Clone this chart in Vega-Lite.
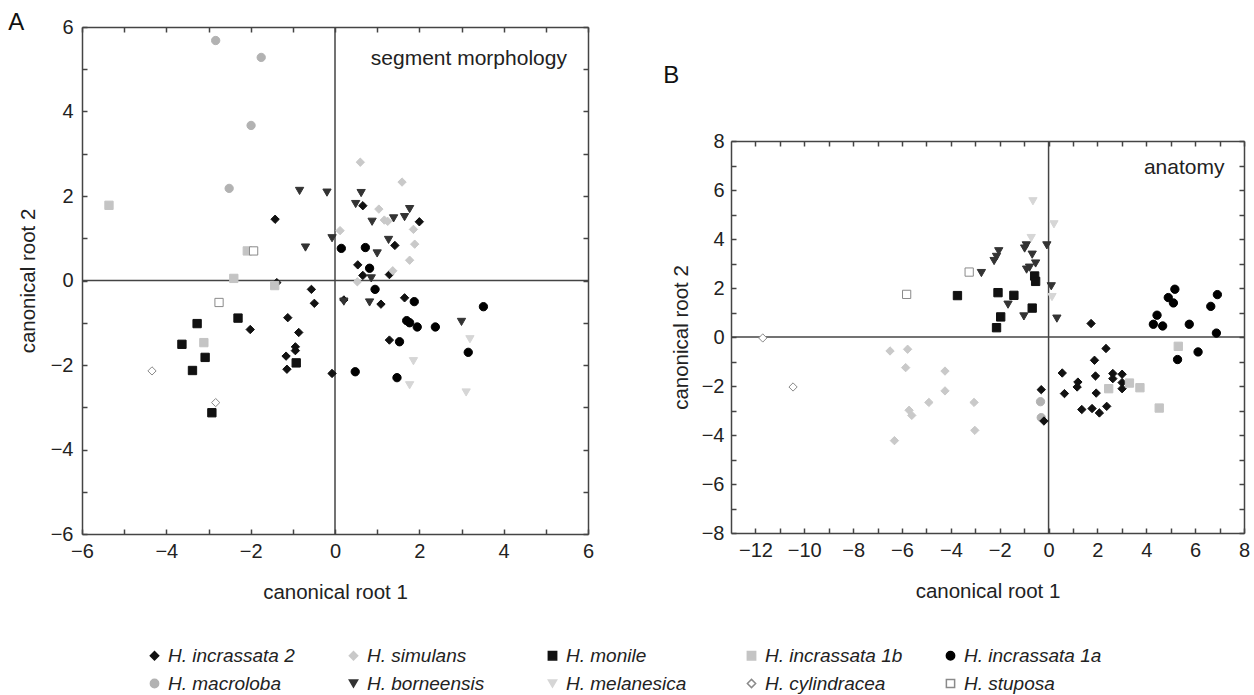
{
  "$schema": "https://vega.github.io/schema/vega-lite/v6.json",
  "padding": {"left": 8, "top": 11, "right": 5, "bottom": 5},
  "background": "white",
  "datasets": {
    "pts": [
      {"p":"A","s":"H. incrassata 2","x":-1.42,"y":1.45},
      {"p":"A","s":"H. incrassata 2","x":0.66,"y":1.77},
      {"p":"A","s":"H. incrassata 2","x":2.0,"y":1.39},
      {"p":"A","s":"H. incrassata 2","x":1.42,"y":0.83},
      {"p":"A","s":"H. incrassata 2","x":0.54,"y":0.37},
      {"p":"A","s":"H. incrassata 2","x":0.66,"y":0.12},
      {"p":"A","s":"H. incrassata 2","x":1.29,"y":0.14},
      {"p":"A","s":"H. incrassata 2","x":0.21,"y":-0.46},
      {"p":"A","s":"H. incrassata 2","x":1.09,"y":-0.56},
      {"p":"A","s":"H. incrassata 2","x":1.65,"y":-0.41},
      {"p":"A","s":"H. incrassata 2","x":1.29,"y":-1.41},
      {"p":"A","s":"H. incrassata 2","x":-0.07,"y":-2.2},
      {"p":"A","s":"H. incrassata 2","x":-1.38,"y":-0.05},
      {"p":"A","s":"H. incrassata 2","x":-0.56,"y":-0.21},
      {"p":"A","s":"H. incrassata 2","x":-0.49,"y":-0.54},
      {"p":"A","s":"H. incrassata 2","x":-2.01,"y":-1.16},
      {"p":"A","s":"H. incrassata 2","x":-1.12,"y":-0.88},
      {"p":"A","s":"H. incrassata 2","x":-0.86,"y":-1.23},
      {"p":"A","s":"H. incrassata 2","x":-1.16,"y":-1.79},
      {"p":"A","s":"H. incrassata 2","x":-0.94,"y":-1.57},
      {"p":"A","s":"H. incrassata 2","x":-0.94,"y":-1.66},
      {"p":"A","s":"H. incrassata 2","x":-1.14,"y":-2.1},
      {"p":"A","s":"H. simulans","x":0.6,"y":2.8},
      {"p":"A","s":"H. simulans","x":1.59,"y":2.33},
      {"p":"A","s":"H. simulans","x":1.04,"y":1.69},
      {"p":"A","s":"H. simulans","x":1.17,"y":1.43},
      {"p":"A","s":"H. simulans","x":1.25,"y":1.4},
      {"p":"A","s":"H. simulans","x":0.12,"y":1.18},
      {"p":"A","s":"H. simulans","x":1.86,"y":1.21},
      {"p":"A","s":"H. simulans","x":1.89,"y":0.86},
      {"p":"A","s":"H. simulans","x":1.77,"y":0.48},
      {"p":"A","s":"H. simulans","x":1.37,"y":0.23},
      {"p":"A","s":"H. simulans","x":0.53,"y":-0.03},
      {"p":"A","s":"H. monile","x":-3.27,"y":-1.02},
      {"p":"A","s":"H. monile","x":-2.3,"y":-0.89},
      {"p":"A","s":"H. monile","x":-3.63,"y":-1.51},
      {"p":"A","s":"H. monile","x":-3.08,"y":-1.82},
      {"p":"A","s":"H. monile","x":-3.38,"y":-2.13},
      {"p":"A","s":"H. monile","x":-0.92,"y":-1.95},
      {"p":"A","s":"H. monile","x":-2.92,"y":-3.13},
      {"p":"A","s":"H. incrassata 1b","x":-5.36,"y":1.78},
      {"p":"A","s":"H. incrassata 1b","x":-2.08,"y":0.7},
      {"p":"A","s":"H. incrassata 1b","x":-2.4,"y":0.05},
      {"p":"A","s":"H. incrassata 1b","x":-1.43,"y":-0.12},
      {"p":"A","s":"H. incrassata 1b","x":-3.11,"y":-1.47},
      {"p":"A","s":"H. incrassata 1a","x":0.15,"y":0.76},
      {"p":"A","s":"H. incrassata 1a","x":0.72,"y":0.78},
      {"p":"A","s":"H. incrassata 1a","x":0.82,"y":0.29},
      {"p":"A","s":"H. incrassata 1a","x":0.95,"y":-0.21},
      {"p":"A","s":"H. incrassata 1a","x":1.88,"y":-0.5},
      {"p":"A","s":"H. incrassata 1a","x":3.52,"y":-0.62},
      {"p":"A","s":"H. incrassata 1a","x":1.7,"y":-0.95},
      {"p":"A","s":"H. incrassata 1a","x":1.77,"y":-1.0},
      {"p":"A","s":"H. incrassata 1a","x":1.95,"y":-1.1},
      {"p":"A","s":"H. incrassata 1a","x":2.38,"y":-1.1},
      {"p":"A","s":"H. incrassata 1a","x":1.53,"y":-1.45},
      {"p":"A","s":"H. incrassata 1a","x":3.16,"y":-1.7},
      {"p":"A","s":"H. incrassata 1a","x":0.48,"y":-2.16},
      {"p":"A","s":"H. incrassata 1a","x":1.47,"y":-2.3},
      {"p":"A","s":"H. macroloba","x":-2.83,"y":5.68},
      {"p":"A","s":"H. macroloba","x":-1.75,"y":5.28},
      {"p":"A","s":"H. macroloba","x":-1.99,"y":3.67},
      {"p":"A","s":"H. macroloba","x":-2.51,"y":2.18},
      {"p":"A","s":"H. borneensis","x":-0.84,"y":2.12},
      {"p":"A","s":"H. borneensis","x":-0.19,"y":2.08},
      {"p":"A","s":"H. borneensis","x":-0.7,"y":0.78},
      {"p":"A","s":"H. borneensis","x":-0.07,"y":1.0},
      {"p":"A","s":"H. borneensis","x":0.62,"y":2.07},
      {"p":"A","s":"H. borneensis","x":0.49,"y":1.81},
      {"p":"A","s":"H. borneensis","x":0.88,"y":1.39},
      {"p":"A","s":"H. borneensis","x":1.39,"y":1.47},
      {"p":"A","s":"H. borneensis","x":1.65,"y":1.5},
      {"p":"A","s":"H. borneensis","x":1.77,"y":1.69},
      {"p":"A","s":"H. borneensis","x":1.27,"y":0.96},
      {"p":"A","s":"H. borneensis","x":1.0,"y":0.64},
      {"p":"A","s":"H. borneensis","x":0.86,"y":0.05},
      {"p":"A","s":"H. borneensis","x":0.21,"y":-0.5},
      {"p":"A","s":"H. borneensis","x":0.82,"y":-0.52},
      {"p":"A","s":"H. borneensis","x":3.0,"y":-0.98},
      {"p":"A","s":"H. melanesica","x":3.2,"y":-1.39},
      {"p":"A","s":"H. melanesica","x":1.86,"y":-1.91},
      {"p":"A","s":"H. melanesica","x":1.77,"y":-2.48},
      {"p":"A","s":"H. melanesica","x":3.11,"y":-2.65},
      {"p":"A","s":"H. cylindracea","x":-4.34,"y":-2.14},
      {"p":"A","s":"H. cylindracea","x":-2.83,"y":-2.89},
      {"p":"A","s":"H. stuposa","x":-1.93,"y":0.7},
      {"p":"A","s":"H. stuposa","x":-2.75,"y":-0.52},
      {"p":"B","s":"H. cylindracea","x":-11.7,"y":-0.04},
      {"p":"B","s":"H. cylindracea","x":-10.46,"y":-2.04},
      {"p":"B","s":"H. stuposa","x":-5.81,"y":1.74},
      {"p":"B","s":"H. stuposa","x":-3.25,"y":2.65},
      {"p":"B","s":"H. monile","x":-3.73,"y":1.69},
      {"p":"B","s":"H. monile","x":-0.57,"y":2.49},
      {"p":"B","s":"H. monile","x":-0.53,"y":2.27},
      {"p":"B","s":"H. monile","x":-2.07,"y":1.81},
      {"p":"B","s":"H. monile","x":-1.42,"y":1.7},
      {"p":"B","s":"H. monile","x":-0.67,"y":1.18},
      {"p":"B","s":"H. monile","x":-1.96,"y":0.82},
      {"p":"B","s":"H. monile","x":-2.13,"y":0.38},
      {"p":"B","s":"H. borneensis","x":-2.04,"y":3.5},
      {"p":"B","s":"H. borneensis","x":-2.13,"y":3.27},
      {"p":"B","s":"H. borneensis","x":-2.23,"y":3.1},
      {"p":"B","s":"H. borneensis","x":-2.75,"y":2.61},
      {"p":"B","s":"H. borneensis","x":-0.91,"y":3.74},
      {"p":"B","s":"H. borneensis","x":-0.98,"y":3.61},
      {"p":"B","s":"H. borneensis","x":-0.67,"y":3.36},
      {"p":"B","s":"H. borneensis","x":-0.53,"y":3.0},
      {"p":"B","s":"H. borneensis","x":-0.78,"y":2.83},
      {"p":"B","s":"H. borneensis","x":-0.9,"y":2.75},
      {"p":"B","s":"H. borneensis","x":-0.07,"y":3.74},
      {"p":"B","s":"H. borneensis","x":0.11,"y":2.07},
      {"p":"B","s":"H. borneensis","x":-1.66,"y":1.32},
      {"p":"B","s":"H. borneensis","x":-1.01,"y":0.84},
      {"p":"B","s":"H. borneensis","x":0.34,"y":0.75},
      {"p":"B","s":"H. melanesica","x":-0.64,"y":5.54},
      {"p":"B","s":"H. melanesica","x":0.22,"y":4.6},
      {"p":"B","s":"H. melanesica","x":-0.71,"y":4.04},
      {"p":"B","s":"H. melanesica","x":0.14,"y":1.63},
      {"p":"B","s":"H. simulans","x":-6.49,"y":-0.57},
      {"p":"B","s":"H. simulans","x":-5.77,"y":-0.5},
      {"p":"B","s":"H. simulans","x":-5.85,"y":-1.25},
      {"p":"B","s":"H. simulans","x":-4.24,"y":-1.39},
      {"p":"B","s":"H. simulans","x":-4.24,"y":-2.2},
      {"p":"B","s":"H. simulans","x":-4.9,"y":-2.67},
      {"p":"B","s":"H. simulans","x":-5.71,"y":-2.99},
      {"p":"B","s":"H. simulans","x":-5.6,"y":-3.2},
      {"p":"B","s":"H. simulans","x":-6.31,"y":-4.23},
      {"p":"B","s":"H. simulans","x":-3.05,"y":-2.67},
      {"p":"B","s":"H. simulans","x":-3.02,"y":-3.81},
      {"p":"B","s":"H. macroloba","x":-0.33,"y":-2.64},
      {"p":"B","s":"H. macroloba","x":-0.3,"y":-3.29},
      {"p":"B","s":"H. incrassata 2","x":-0.3,"y":-2.15},
      {"p":"B","s":"H. incrassata 2","x":-0.19,"y":-3.43},
      {"p":"B","s":"H. incrassata 2","x":1.74,"y":0.55},
      {"p":"B","s":"H. incrassata 2","x":2.35,"y":-0.47},
      {"p":"B","s":"H. incrassata 2","x":1.88,"y":-0.95},
      {"p":"B","s":"H. incrassata 2","x":0.56,"y":-1.47},
      {"p":"B","s":"H. incrassata 2","x":1.2,"y":-1.84},
      {"p":"B","s":"H. incrassata 2","x":1.17,"y":-2.04},
      {"p":"B","s":"H. incrassata 2","x":0.65,"y":-2.31},
      {"p":"B","s":"H. incrassata 2","x":1.92,"y":-1.59},
      {"p":"B","s":"H. incrassata 2","x":2.63,"y":-1.49},
      {"p":"B","s":"H. incrassata 2","x":3.01,"y":-1.52},
      {"p":"B","s":"H. incrassata 2","x":2.63,"y":-1.7},
      {"p":"B","s":"H. incrassata 2","x":3.01,"y":-1.86},
      {"p":"B","s":"H. incrassata 2","x":3.01,"y":-2.11},
      {"p":"B","s":"H. incrassata 2","x":1.95,"y":-2.29},
      {"p":"B","s":"H. incrassata 2","x":1.36,"y":-2.96},
      {"p":"B","s":"H. incrassata 2","x":1.78,"y":-2.92},
      {"p":"B","s":"H. incrassata 2","x":2.08,"y":-3.1},
      {"p":"B","s":"H. incrassata 2","x":2.38,"y":-2.83},
      {"p":"B","s":"H. incrassata 1b","x":2.46,"y":-2.11},
      {"p":"B","s":"H. incrassata 1b","x":3.31,"y":-1.88},
      {"p":"B","s":"H. incrassata 1b","x":3.74,"y":-2.07},
      {"p":"B","s":"H. incrassata 1b","x":4.53,"y":-2.9},
      {"p":"B","s":"H. incrassata 1b","x":5.31,"y":-0.38},
      {"p":"B","s":"H. incrassata 1a","x":5.28,"y":-0.92},
      {"p":"B","s":"H. incrassata 1a","x":6.12,"y":-0.61},
      {"p":"B","s":"H. incrassata 1a","x":6.87,"y":0.16},
      {"p":"B","s":"H. incrassata 1a","x":5.17,"y":1.95},
      {"p":"B","s":"H. incrassata 1a","x":4.9,"y":1.61},
      {"p":"B","s":"H. incrassata 1a","x":5.11,"y":1.39},
      {"p":"B","s":"H. incrassata 1a","x":6.91,"y":1.73},
      {"p":"B","s":"H. incrassata 1a","x":6.64,"y":1.25},
      {"p":"B","s":"H. incrassata 1a","x":4.44,"y":0.89},
      {"p":"B","s":"H. incrassata 1a","x":4.29,"y":0.52},
      {"p":"B","s":"H. incrassata 1a","x":4.67,"y":0.45},
      {"p":"B","s":"H. incrassata 1a","x":5.76,"y":0.52}
    ]
  },
  "hconcat": [
    {
      "width": 506,
      "height": 507,
      "title": {"text": "A", "anchor": "start", "frame": "bounds", "fontSize": 24, "fontWeight": "normal", "font": "Liberation Sans", "color": "#111", "offset": -18, "dx": -10},
      "layer": [
        {
          "data": {"values": [{}]},
          "mark": {"type": "rule", "color": "#444", "strokeWidth": 1.5},
          "encoding": {
            "x": {"datum": 0, "type": "quantitative", "scale": {"domain": [-6, 6], "nice": false, "zero": false},
                  "axis": {"orient": "top", "values": [-6,-5,-4,-3,-2,-1,0,1,2,3,4,5,6], "labels": false, "title": null, "tickSize": -5, "grid": false}}
          }
        },
        {
          "data": {"values": [{}]},
          "mark": {"type": "rule", "color": "#444", "strokeWidth": 1.5},
          "encoding": {
            "y": {"datum": 0, "type": "quantitative", "scale": {"domain": [-6, 6], "nice": false, "zero": false},
                  "axis": {"orient": "right", "values": [-6,-5,-4,-3,-2,-1,0,1,2,3,4,5,6], "labels": false, "title": null, "tickSize": -5, "grid": false}}
          }
        },
        {
          "data": {"name": "pts"},
          "transform": [{"filter": "datum.p === 'A'"}],
          "mark": {"type": "point", "opacity": 1, "strokeWidth": 1},
          "encoding": {
            "x": {"field": "x", "type": "quantitative", "title": "canonical root 1",
                  "axis": {"orient": "bottom", "values": [-6,-5,-4,-3,-2,-1,0,1,2,3,4,5,6], "labelExpr": "datum.value % 2 === 0 ? datum.label : ''", "tickSize": -5, "labelPadding": 12, "titlePadding": 21, "grid": false}},
            "y": {"field": "y", "type": "quantitative", "title": "canonical root 2",
                  "axis": {"orient": "left", "values": [-6,-5,-4,-3,-2,-1,0,1,2,3,4,5,6], "labelExpr": "datum.value % 2 === 0 ? datum.label : ''", "tickSize": -5, "labelPadding": 14, "titlePadding": 12, "grid": false}},
            "shape": {"field": "s", "type": "nominal", "legend": {"title": null},
                      "scale": {"domain": ["H. incrassata 2","H. simulans","H. monile","H. incrassata 1b","H. incrassata 1a","H. macroloba","H. borneensis","H. melanesica","H. cylindracea","H. stuposa"],
                                "range": ["diamond","diamond","square","square","circle","circle","triangle-down","triangle-down","diamond","square"]}},
            "fill": {"field": "s", "type": "nominal", "legend": {"title": null},
                     "scale": {"domain": ["H. incrassata 2","H. simulans","H. monile","H. incrassata 1b","H. incrassata 1a","H. macroloba","H. borneensis","H. melanesica","H. cylindracea","H. stuposa"],
                               "range": ["#111111","#c9c9c9","#111111","#c4c4c4","#000000","#b2b2b2","#333333","#d6d6d6","#ffffff","#ffffff"]}},
            "stroke": {"field": "s", "type": "nominal", "legend": {"title": null},
                       "scale": {"domain": ["H. incrassata 2","H. simulans","H. monile","H. incrassata 1b","H. incrassata 1a","H. macroloba","H. borneensis","H. melanesica","H. cylindracea","H. stuposa"],
                                 "range": ["#111111","#c9c9c9","#111111","#c4c4c4","#000000","#b2b2b2","#333333","#d6d6d6","#8a8a8a","#8a8a8a"]}},
            "size": {"field": "s", "type": "nominal", "legend": {"title": null},
                     "scale": {"domain": ["H. incrassata 2","H. simulans","H. monile","H. incrassata 1b","H. incrassata 1a","H. macroloba","H. borneensis","H. melanesica","H. cylindracea","H. stuposa"],
                               "range": [70,68,28,20,110,120,75,75,50,34]}}
          }
        },
        {
          "data": {"values": [{"x": 5.5, "y": 5.25, "t": "segment morphology"}]},
          "mark": {"type": "text", "align": "right", "baseline": "middle", "fontSize": 21, "font": "Liberation Sans", "color": "#222"},
          "encoding": {
            "x": {"field": "x", "type": "quantitative", "axis": null},
            "y": {"field": "y", "type": "quantitative", "axis": null},
            "text": {"field": "t"}
          }
        }
      ],
      "resolve": {"axis": {"x": "independent", "y": "independent"}}
    },
    {
      "spacing": 31,
      "vconcat": [
        {
          "width": 1,
          "height": 1,
          "data": {"values": [{}]},
          "mark": {"type": "text", "text": ""},
          "encoding": {}
        },
        {
          "width": 513,
          "height": 392,
          "title": {"text": "B", "anchor": "start", "frame": "bounds", "fontSize": 24, "fontWeight": "normal", "font": "Liberation Sans", "color": "#111", "offset": 43, "dx": -8},
          "layer": [
            {
              "data": {"values": [{}]},
              "mark": {"type": "rule", "color": "#444", "strokeWidth": 1.5},
              "encoding": {
                "x": {"datum": 0, "type": "quantitative", "scale": {"domain": [-13, 8], "nice": false, "zero": false},
                      "axis": {"orient": "top", "values": [-12,-11,-10,-9,-8,-7,-6,-5,-4,-3,-2,-1,0,1,2,3,4,5,6,7,8], "labels": false, "title": null, "tickSize": -5, "grid": false}}
              }
            },
            {
              "data": {"values": [{}]},
              "mark": {"type": "rule", "color": "#444", "strokeWidth": 1.5},
              "encoding": {
                "y": {"datum": 0, "type": "quantitative", "scale": {"domain": [-8, 8], "nice": false, "zero": false},
                      "axis": {"orient": "right", "values": [-8,-7,-6,-5,-4,-3,-2,-1,0,1,2,3,4,5,6,7,8], "labels": false, "title": null, "tickSize": -5, "grid": false}}
              }
            },
            {
              "data": {"name": "pts"},
              "transform": [{"filter": "datum.p === 'B'"}],
              "mark": {"type": "point", "opacity": 1, "strokeWidth": 1},
              "encoding": {
                "x": {"field": "x", "type": "quantitative", "title": "canonical root 1",
                      "axis": {"orient": "bottom", "values": [-12,-11,-10,-9,-8,-7,-6,-5,-4,-3,-2,-1,0,1,2,3,4,5,6,7,8], "labelExpr": "datum.value % 2 === 0 ? datum.label : ''", "tickSize": -5, "labelPadding": 12, "titlePadding": 21, "grid": false}},
                "y": {"field": "y", "type": "quantitative", "title": "canonical root 2",
                      "axis": {"orient": "left", "values": [-8,-7,-6,-5,-4,-3,-2,-1,0,1,2,3,4,5,6,7,8], "labelExpr": "datum.value % 2 === 0 ? datum.label : ''", "tickSize": -5, "labelPadding": 12, "titlePadding": 10, "grid": false}},
                "shape": {"field": "s", "type": "nominal", "legend": {"title": null},
                          "scale": {"domain": ["H. incrassata 2","H. simulans","H. monile","H. incrassata 1b","H. incrassata 1a","H. macroloba","H. borneensis","H. melanesica","H. cylindracea","H. stuposa"],
                                    "range": ["diamond","diamond","square","square","circle","circle","triangle-down","triangle-down","diamond","square"]}},
                "fill": {"field": "s", "type": "nominal", "legend": {"title": null},
                         "scale": {"domain": ["H. incrassata 2","H. simulans","H. monile","H. incrassata 1b","H. incrassata 1a","H. macroloba","H. borneensis","H. melanesica","H. cylindracea","H. stuposa"],
                                   "range": ["#111111","#c9c9c9","#111111","#c4c4c4","#000000","#b2b2b2","#333333","#d6d6d6","#ffffff","#ffffff"]}},
                "stroke": {"field": "s", "type": "nominal", "legend": {"title": null},
                           "scale": {"domain": ["H. incrassata 2","H. simulans","H. monile","H. incrassata 1b","H. incrassata 1a","H. macroloba","H. borneensis","H. melanesica","H. cylindracea","H. stuposa"],
                                     "range": ["#111111","#c9c9c9","#111111","#c4c4c4","#000000","#b2b2b2","#333333","#d6d6d6","#8a8a8a","#8a8a8a"]}},
                "size": {"field": "s", "type": "nominal", "legend": {"title": null},
                         "scale": {"domain": ["H. incrassata 2","H. simulans","H. monile","H. incrassata 1b","H. incrassata 1a","H. macroloba","H. borneensis","H. melanesica","H. cylindracea","H. stuposa"],
                                   "range": [70,68,28,20,110,120,75,75,50,34]}}
              }
            },
            {
              "data": {"values": [{"x": 7.2, "y": 6.9, "t": "anatomy"}]},
              "mark": {"type": "text", "align": "right", "baseline": "middle", "fontSize": 21, "font": "Liberation Sans", "color": "#222"},
              "encoding": {
                "x": {"field": "x", "type": "quantitative", "axis": null},
                "y": {"field": "y", "type": "quantitative", "axis": null},
                "text": {"field": "t"}
              }
            }
          ],
          "resolve": {"axis": {"x": "independent", "y": "independent"}}
        }
      ]
    }
  ],
  "spacing": 69,
  "resolve": {"scale": {"shape": "shared", "fill": "shared", "stroke": "shared", "size": "shared"}, "legend": {"shape": "shared", "fill": "shared", "stroke": "shared", "size": "shared"}},
  "config": {
    "view": {"stroke": null},
    "font": "Liberation Sans",
    "axis": {
      "domainColor": "#444", "domainWidth": 1.5, "tickColor": "#444", "tickWidth": 1.5,
      "labelFont": "Liberation Sans", "labelFontSize": 20, "labelColor": "#222",
      "labelFlush": false, "labelOverlap": false,
      "titleFont": "Liberation Sans", "titleFontSize": 20.5, "titleFontWeight": "normal", "titleColor": "#222"
    },
    "legend": {
      "orient": "none", "legendX": 63, "legendY": 619,
      "direction": "horizontal", "columns": 5, "gridAlign": "all", "columnPadding": 38, "rowPadding": 8,
      "labelFont": "Liberation Sans", "labelFontSize": 19, "labelFontStyle": "italic", "labelColor": "#222", "labelLimit": 200
    }
  }
}
